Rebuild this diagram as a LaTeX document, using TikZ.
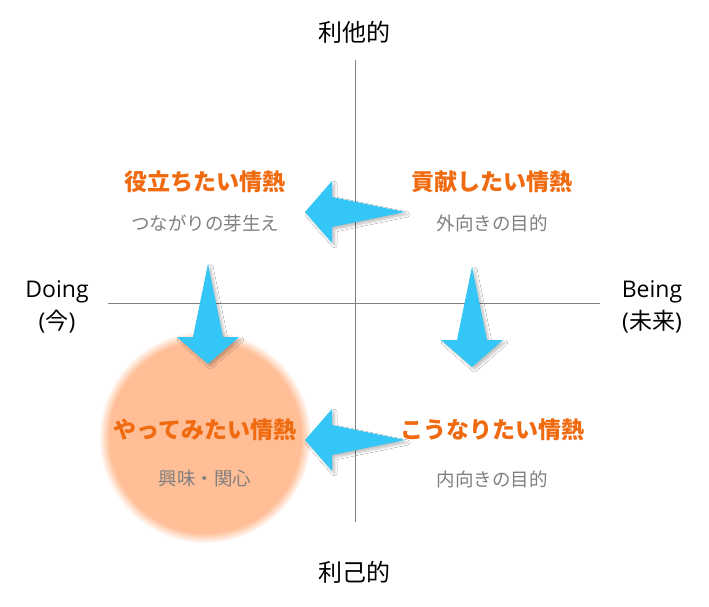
\documentclass[tikz,border=0pt]{standalone}
\usepackage{fontspec}
\newfontfamily\jp{Noto Sans CJK JP}
\newfontfamily\lat{Open Sans}
\usetikzlibrary{shadows.blur,fadings}
\definecolor{arrowblue}{HTML}{35C6F8}
\definecolor{titleorange}{HTML}{F06A10}
\definecolor{subgray}{HTML}{808080}
\definecolor{axisgray}{HTML}{7F7F7F}
\definecolor{peach}{HTML}{FFBE96}
\tikzset{
  axis/.style={draw=axisgray, line width=0.9pt},
  barrow/.style={fill=arrowblue, blur shadow={shadow xshift=2.5pt, shadow yshift=-2.5pt, shadow blur steps=6, shadow opacity=25, shadow blur radius=2.5pt}},
  title/.style={font=\jp\bfseries\fontsize{23}{27}\selectfont, text=titleorange, inner sep=0pt},
  sub/.style={font=\jp\fontsize{18.5}{22}\selectfont, text=subgray, inner sep=0pt},
  axlabel/.style={font=\jp\fontsize{24}{28}\selectfont, text=black, inner sep=0pt},
  latlabel/.style={font=\lat\fontsize{23}{27}\selectfont, text=black, inner sep=0pt},
}
\newcommand{\leftblock}[1]{\fill[barrow] (#1) -- ++(-73,-15) -- ++(0,-16) -- ++(-27,31) -- ++(27,31) -- ++(0,-16) -- cycle;}
\newcommand{\downblock}[1]{\fill[barrow] (#1) -- ++(-15,73) -- ++(-16,0) -- ++(31,27) -- ++(31,-27) -- ++(-16,0) -- cycle;}
\begin{document}
\begin{tikzpicture}[x=1pt,y=-1pt]
\useasboundingbox (0,0) rectangle (709,606);
\fill[white] (0,0) rectangle (709,606);
% axes
\coordinate (xl) at (108,303);
\coordinate (xr) at (600,303);
\coordinate (yt) at (355,60);
\coordinate (yb) at (355,522);
\draw[axis] (xl) -- (xr);
\draw[axis] (yt) -- (yb);
% axis labels
\node[axlabel] (altru) at (354,32) {利他的};
\node[axlabel] (egoi) at (354,572) {利己的};
\node[latlabel] (doing) at (57,292) {Doing};
\node[latlabel] (now) at (57,322) {(\jp 今\lat)};
\node[latlabel] (being) at (652,292) {Being};
\node[latlabel] (future) at (652,322) {(\jp 未来\lat)};
% soft circle
\coordinate (cc) at (205,437);
\fill[peach, path fading=circle with fuzzy edge 10 percent] (cc) circle (106);
% arrows
\coordinate (a1) at (405,212);
\coordinate (a2) at (208,264);
\coordinate (a3) at (472,267);
\coordinate (a4) at (405,440);
\downblock{a2}
\downblock{a3}
\leftblock{a1}
\leftblock{a4}
% quadrant texts
\node[title] (t1) at (205,182) {役立ちたい情熱};
\node[sub] (s1) at (205,223) {つながりの芽生え};
\node[title] (t2) at (492,182) {貢献したい情熱};
\node[sub] (s2) at (492,223) {外向きの目的};
\node[title] (t3) at (205,430) {やってみたい情熱};
\node[sub] (s3) at (205,479) {興味・関心};
\node[title] (t4) at (492,430) {こうなりたい情熱};
\node[sub] (s4) at (492,479) {内向きの目的};
\end{tikzpicture}
\end{document}
